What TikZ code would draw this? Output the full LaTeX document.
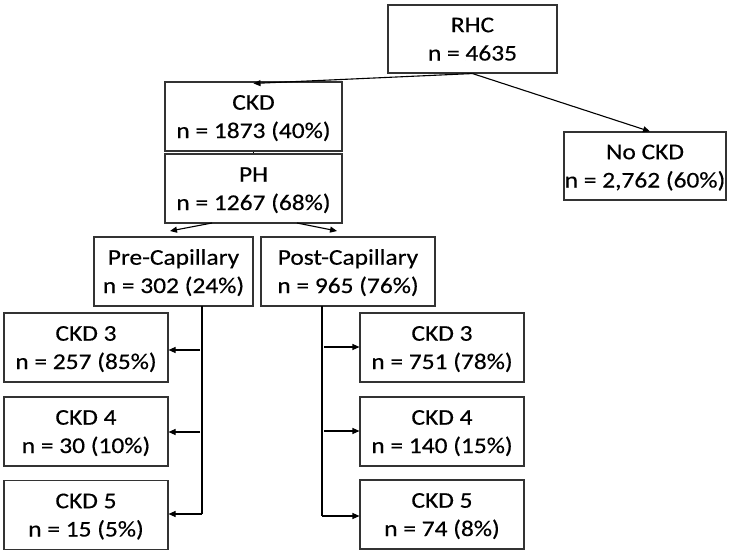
\documentclass[tikz,border=0pt]{standalone}
\usepackage{fontspec}
\setmainfont{Carlito}[FakeStretch=1.13,FakeBold=0.4]
\usetikzlibrary{arrows.meta}
\begin{document}
\begin{tikzpicture}[x=1pt,y=-1pt,
  box/.style={draw=black!80,line width=1.1pt,rectangle,align=center,inner sep=0pt,
    font=\fontsize{22.5}{28.3}\selectfont,text=black,text height=43pt,text depth=0pt},
  arr/.style={line width=1.1pt,-{Triangle[length=7pt,width=6pt]}},
  ln/.style={line width=1.1pt}]
\useasboundingbox (0,0) rectangle (745,555);
\node[box,minimum width=169pt,minimum height=68pt] (rhc) at (472.5,39) {RHC\\n = 4635};
\node[box,minimum width=177pt,minimum height=69pt] (ckd) at (253.5,116.5) {CKD\\n = 1873 (40\%)};
\node[box,minimum width=177pt,minimum height=69pt] (ph) at (253.5,188.5) {PH\\n = 1267 (68\%)};
\node[box,minimum width=162pt,minimum height=68pt] (nockd) at (645,166) {No CKD\\n = 2,762 (60\%)};
\node[box,minimum width=159pt,minimum height=69pt] (pre) at (173.5,271.5) {Pre-Capillary\\n = 302 (24\%)};
\node[box,minimum width=174pt,minimum height=69pt] (post) at (348,271.5) {Post-Capillary\\n = 965 (76\%)};
\node[box,minimum width=164pt,minimum height=69pt] (l3) at (86,347.5) {CKD 3\\n = 257 (85\%)};
\node[box,minimum width=164pt,minimum height=69pt] (l4) at (86,431.5) {CKD 4\\n = 30 (10\%)};
\node[box,minimum width=164pt,minimum height=69pt] (l5) at (86,515) {CKD 5\\n = 15 (5\%)};
\node[box,minimum width=164pt,minimum height=69pt] (r3) at (442,347.5) {CKD 3\\n = 751 (78\%)};
\node[box,minimum width=164pt,minimum height=69pt] (r4) at (442,431.5) {CKD 4\\n = 140 (15\%)};
\node[box,minimum width=164pt,minimum height=69pt] (r5) at (442,514.5) {CKD 5\\n = 74 (8\%)};
% top level
\draw[arr] (rhc.south) -- ([yshift=-2pt]ckd.north);
\draw[arr] (rhc.south) -- ([xshift=5pt]nockd.north);
\draw[ln] (ckd.south) -- (ph.north);
\coordinate (ph1) at (212,223);
\coordinate (ph2) at (297,223);
\draw[arr] (ph1) -- (170,231);
\draw[arr] (ph2) -- (337,231);
% left branch
\coordinate (lt) at (202,306);
\coordinate (lb) at (202,514);
\draw[ln] (lt) -- (lb);
\draw[arr] (lb) -- (l5.east |- lb);
\draw[arr] (200,350) -- (l3.east |- 0,350);
\draw[arr] (200,432) -- (l4.east |- 0,432);
% right branch
\coordinate (rt) at (322,306);
\coordinate (rb) at (322,516);
\draw[ln] (rt) -- (rb);
\draw[arr] (rb) -- (r5.west |- rb);
\draw[arr] (324,347) -- (r3.west |- 0,347);
\draw[arr] (324,431) -- (r4.west |- 0,431);
\end{tikzpicture}
\end{document}
